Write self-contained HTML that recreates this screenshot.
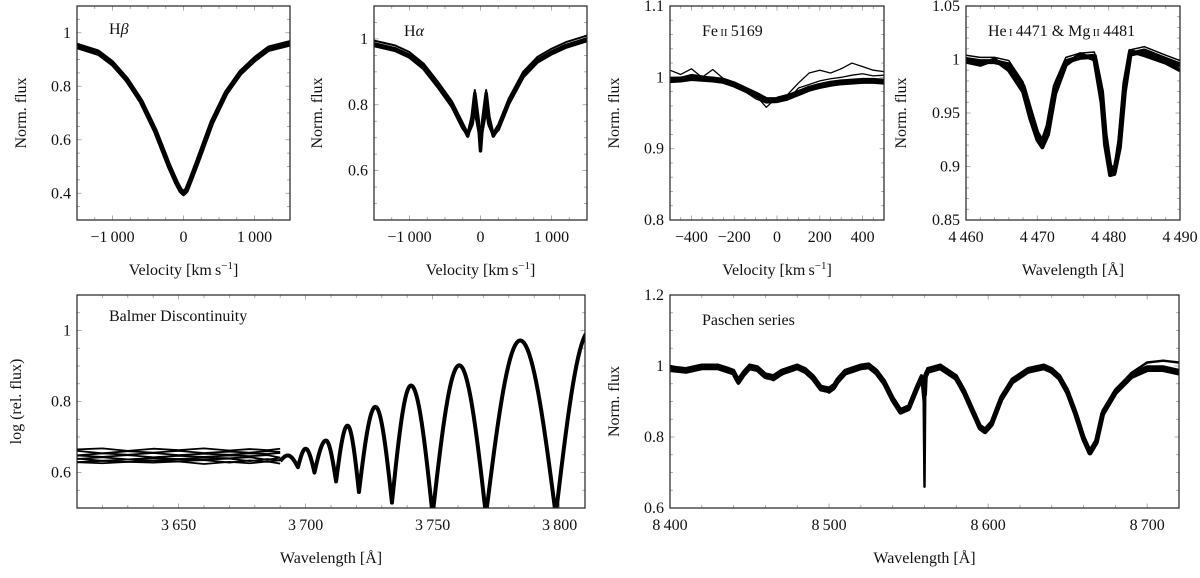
<!DOCTYPE html>
<html><head><meta charset="utf-8"><style>
html,body{margin:0;padding:0;background:#fff;}
svg text{font-family:"Liberation Serif",serif;fill:#111;}
</style></head><body>
<svg id="fig" width="1200" height="573" viewBox="0 0 1200 573" xmlns="http://www.w3.org/2000/svg"></svg>
<script>
// ---- Data arrays ----
const hbVel = [-1500,-1200,-1000,-800,-600,-400,-200,-100,-40,0,40,100,200,400,600,800,1000,1200,1500];
const hbFlux = [0.95,0.925,0.885,0.825,0.745,0.635,0.5,0.44,0.41,0.40,0.41,0.45,0.52,0.665,0.775,0.85,0.9,0.94,0.96];
const haVel = [-1500,-1200,-1000,-800,-600,-400,-250,-180,-120,-80,-30,0,30,80,120,180,250,400,600,800,1000,1200,1500];
const haFluxA = [0.985,0.97,0.95,0.915,0.86,0.8,0.735,0.705,0.76,0.835,0.75,0.66,0.75,0.835,0.76,0.705,0.73,0.81,0.89,0.935,0.96,0.98,1.0];
const haFluxB = [0.98,0.965,0.945,0.91,0.855,0.795,0.73,0.71,0.74,0.79,0.73,0.7,0.73,0.79,0.74,0.71,0.725,0.805,0.885,0.93,0.955,0.975,0.995];
const feVel = [-500,-450,-400,-350,-300,-250,-200,-150,-100,-50,0,50,100,150,200,250,300,350,400,450,500];
const feFluxA = [0.996,0.997,0.999,0.998,0.997,0.995,0.99,0.983,0.976,0.968,0.968,0.972,0.978,0.984,0.988,0.991,0.993,0.994,0.995,0.995,0.994];
const feFluxB = [1.01,1.004,1.012,1.0,1.011,0.998,0.993,0.985,0.975,0.958,0.972,0.976,0.992,1.006,1.01,1.006,1.012,1.02,1.015,1.01,1.008];
const feFluxC = [1.0,1.0,1.004,1.002,0.998,0.996,0.99,0.98,0.97,0.964,0.965,0.968,0.985,0.99,0.995,0.998,1.0,1.003,1.005,1.002,1.003];
const heWave = [4460,4462,4464,4466,4468,4469,4470,4470.7,4471.5,4472.5,4474,4476,4478,4479,4479.5,4480.2,4480.8,4481.5,4482.2,4483,4485,4488,4490];
const heFluxA = [1.0,0.998,0.998,0.995,0.975,0.952,0.93,0.922,0.938,0.975,0.998,1.002,1.003,0.97,0.93,0.898,0.895,0.918,0.97,1.005,1.008,1.0,0.995];
const heFluxB = [0.998,0.995,1.0,0.99,0.97,0.945,0.925,0.918,0.93,0.968,0.995,1.005,1.0,0.96,0.92,0.892,0.893,0.925,0.978,1.008,1.004,0.997,0.99];
const bdBandWave = [3610,3620,3630,3640,3650,3660,3670,3678,3685,3690];
const bdBandLevels = [0.665,0.658,0.652,0.646,0.64,0.636,0.632,0.628];
const bdBandWiggle = [0,0.003,-0.004,0.002,-0.002,0.003,-0.003,0.001,-0.002,0.002];
const bdExtWave = [3690,3693,3697,3700,3703.5,3708,3712,3716.5,3721,3727.5,3734,3741.5,3750,3760.5,3771,3784.5,3798.5,3812];
const bdExtFlux = [0.632,0.648,0.615,0.667,0.6,0.69,0.575,0.732,0.545,0.785,0.515,0.845,0.48,0.902,0.48,0.972,0.48,1.0];
const paWave = [8400,8410,8420,8430,8437,8440,8443,8446,8450,8455,8460,8465,8470,8480,8485,8490,8495,8500,8503,8505,8510,8520,8525,8530,8535,8540,8545,8550,8555,8558,8559.5,8560,8560.5,8562,8570,8580,8585,8590,8595,8598,8602,8608,8615,8625,8635,8640,8645,8650,8655,8660,8664,8668,8672,8680,8690,8700,8710,8720];
const paFluxA = [1.0,0.99,1.0,1.0,0.99,0.985,0.95,0.97,1.0,0.995,0.975,0.96,0.975,1.0,0.99,0.97,0.94,0.925,0.935,0.96,0.985,1.0,1.0,0.985,0.955,0.91,0.875,0.885,0.94,0.97,0.9,0.66,0.95,0.99,1.0,0.97,0.93,0.88,0.83,0.82,0.84,0.91,0.96,0.99,1.0,0.99,0.97,0.93,0.87,0.8,0.76,0.79,0.87,0.93,0.98,1.01,1.015,1.01];
const paFluxB = [0.99,0.985,0.995,0.995,0.985,0.98,0.955,0.975,0.995,0.99,0.97,0.965,0.98,0.995,0.985,0.965,0.935,0.93,0.94,0.955,0.98,0.995,0.998,0.98,0.95,0.905,0.87,0.88,0.935,0.965,0.96,0.92,0.97,0.985,0.995,0.965,0.925,0.875,0.825,0.815,0.835,0.905,0.955,0.985,0.995,0.985,0.965,0.925,0.865,0.795,0.755,0.785,0.865,0.925,0.97,0.99,0.99,0.98];

const NS="http://www.w3.org/2000/svg";
const svg=document.getElementById('fig');
function mk(tag,attrs,parent){const e=document.createElementNS(NS,tag);for(const k in attrs)e.setAttribute(k,attrs[k]);(parent||svg).appendChild(e);return e;}
function fmt(v){let s=Math.abs(v).toString();if(Math.abs(v)>=1000){s=s.replace(/\B(?=(\d{3})+(?!\d))/g,"\u2009");}return (v<0?"\u2212":"")+s;}

function panel(o){
  const g=mk('g',{});
  
  
  const sx=v=>o.x0+(v-o.xmin)/(o.xmax-o.xmin)*(o.x1-o.x0);
  const sy=v=>o.y1-(v-o.ymin)/(o.ymax-o.ymin)*(o.y1-o.y0);
  const clip='c'+o.name;
  const cp=mk('clipPath',{id:clip},g);mk('rect',{x:o.x0,y:o.y0,width:o.x1-o.x0,height:o.y1-o.y0},cp);
  const tg=mk('g',{stroke:'#999','stroke-width':0.8},g);
  
  
  for(let v=o.xmin;v<=o.xmax+1e-9;v+=o.xminor){const X=sx(v);const maj=o.xticks.some(t=>Math.abs(t-v)<1e-6);const L=maj?4.5:3;
    mk('line',{x1:X,x2:X,y1:o.y1,y2:o.y1-L},tg);mk('line',{x1:X,x2:X,y1:o.y0,y2:o.y0+L},tg);}
  for(let v=o.ymin;v<=o.ymax+1e-9;v+=o.yminor){const Y=sy(v);const maj=o.yticks.some(t=>Math.abs(t-v)<1e-6);const L=maj?4.5:3;
    mk('line',{y1:Y,y2:Y,x1:o.x0,x2:o.x0+L},tg);mk('line',{y1:Y,y2:Y,x1:o.x1,x2:o.x1-L},tg);}
  o.xticks.forEach(t=>{const e=mk('text',{x:sx(t),y:o.y1+22,'text-anchor':'middle','font-size':16},g);e.textContent=fmt(t);
    
    });
  o.yticks.forEach((t,i)=>{const e=mk('text',{x:o.x0-6,y:sy(t)+5,'text-anchor':'end','font-size':16},g);e.textContent=o.ylabels[i];
    
    });
  const sg=mk('g',{'clip-path':'url(#'+clip+')',fill:'none',stroke:'#000','stroke-linejoin':'round'},g);
  o.series.forEach(s=>{
    const d=s.pts.map((p,i)=>(i?'L':'M')+sx(p[0]).toFixed(2)+','+sy(p[1]).toFixed(2)).join('');
    const p=mk('path',{d:d,'stroke-width':s.w},sg);
    
    
  });
  mk('rect',{x:o.x0,y:o.y0,width:o.x1-o.x0,height:o.y1-o.y0,fill:'none',stroke:'#222','stroke-width':1.2},g);
  const t=mk('text',{x:o.x0+o.tx,y:o.y0+o.ty,'font-size':16},g);t.innerHTML=o.title;
  
  
  const xl=mk('text',{x:(o.x0+o.x1)/2,y:o.y1+55,'text-anchor':'middle','font-size':16},g);xl.innerHTML=o.xlabel;
  
  
  const yl=mk('text',{x:0,y:0,'text-anchor':'middle','font-size':16,transform:`translate(${o.ylx},${(o.y0+o.y1)/2}) rotate(-90)`},g);yl.textContent=o.ylabel;
  
  
}
const zip=(a,b,dy=0)=>a.map((v,i)=>[v,b[i]+dy]);
const vel='Velocity [km\u2009s<tspan dy="-6" font-size="11">\u22121</tspan><tspan dy="6">]</tspan>';
const wav='Wavelength [\u00C5]';

panel({name:'h-beta-panel',x0:77,x1:290,y0:6,y1:220,xmin:-1500,xmax:1500,ymin:0.3,ymax:1.1,xticks:[-1000,0,1000],xminor:250,yticks:[0.4,0.6,0.8,1],ylabels:['0.4','0.6','0.8','1'],yminor:0.05,
  title:'H<tspan font-style="italic">β</tspan>',tx:32,ty:28,xlabel:vel,ylabel:'Norm. flux',ylx:26,
  series:[{name:'h-beta-a',pts:zip(hbVel,hbFlux),w:5},{name:'h-beta-b',pts:zip(hbVel,hbFlux,0.008),w:2.5},{name:'h-beta-c',pts:zip(hbVel,hbFlux,-0.007),w:2.5}]});
panel({name:'h-alpha-panel',x0:374,x1:587,y0:6,y1:220,xmin:-1500,xmax:1500,ymin:0.45,ymax:1.1,xticks:[-1000,0,1000],xminor:250,yticks:[0.6,0.8,1],ylabels:['0.6','0.8','1'],yminor:0.05,
  title:'H<tspan font-style="italic">α</tspan>',tx:30,ty:30,xlabel:vel,ylabel:'Norm. flux',ylx:322,
  series:[{name:'h-alpha-a',pts:zip(haVel,haFluxA),w:3.5},{name:'h-alpha-b',pts:zip(haVel,haFluxB),w:3.5},{name:'h-alpha-c',pts:zip(haVel,haFluxA,0.01),w:2}]});
panel({name:'fe-ii-panel',x0:670,x1:884,y0:6,y1:220,xmin:-500,xmax:500,ymin:0.8,ymax:1.1,xticks:[-400,-200,0,200,400],xminor:50,yticks:[0.8,0.9,1,1.1],ylabels:['0.8','0.9','1','1.1'],yminor:0.02,
  title:'Fe<tspan font-size="11">\u2009II</tspan>\u20095169',tx:32,ty:30,xlabel:vel,ylabel:'Norm. flux',ylx:619,
  series:[{name:'fe-ii-a',pts:zip(feVel,feFluxA),w:6},{name:'fe-ii-b',pts:zip(feVel,feFluxB),w:1.3},{name:'fe-ii-c',pts:zip(feVel,feFluxC),w:1.3}]});
panel({name:'he-mg-panel',x0:966,x1:1180,y0:6,y1:220,xmin:4460,xmax:4490,ymin:0.85,ymax:1.05,xticks:[4460,4470,4480,4490],xminor:2,yticks:[0.85,0.9,0.95,1,1.05],ylabels:['0.85','0.9','0.95','1','1.05'],yminor:0.01,
  title:'He<tspan font-size="11">\u2009I</tspan>\u20094471 &amp; Mg<tspan font-size="11">\u2009II</tspan>\u20094481',tx:22,ty:30,xlabel:wav,ylabel:'Norm. flux',ylx:906,
  series:[{name:'he-mg-a',pts:zip(heWave,heFluxA),w:5},{name:'he-mg-b',pts:zip(heWave,heFluxB),w:4},{name:'he-mg-c',pts:zip(heWave,heFluxA,0.004),w:1.5}]});

const bdSeries=[];
bdBandLevels.forEach((lv,k)=>{bdSeries.push({name:'balmer-band-'+k,pts:bdBandWave.map((w,i)=>[w,lv+bdBandWiggle[(i+k)%bdBandWiggle.length]]),w:1.8});});
const osc=[];
for(let i=0;i<bdExtWave.length-1;i++){
  const w0=bdExtWave[i],w1=bdExtWave[i+1],f0=bdExtFlux[i],f1=bdExtFlux[i+1];
  for(let s=0;s<=20;s++){const t=s/20;let e;
    if(f1>f0) e=Math.sin(t*Math.PI/2); else e=1-Math.cos(t*Math.PI/2);
    osc.push([w0+(w1-w0)*t,f0+(f1-f0)*e]);}
}
bdSeries.push({name:'balmer-oscillation',pts:osc,w:4});
panel({name:'balmer-panel',x0:77,x1:585,y0:295,y1:508,xmin:3610,xmax:3810,ymin:0.5,ymax:1.1,xticks:[3650,3700,3750,3800],xminor:10,yticks:[0.6,0.8,1],ylabels:['0.6','0.8','1'],yminor:0.05,
  title:'Balmer Discontinuity',tx:32,ty:26,xlabel:wav,ylabel:'log (rel. flux)',ylx:21,series:bdSeries});
panel({name:'paschen-panel',x0:670,x1:1179,y0:295,y1:508,xmin:8400,xmax:8720,ymin:0.6,ymax:1.2,xticks:[8400,8500,8600,8700],xminor:20,yticks:[0.6,0.8,1,1.2],ylabels:['0.6','0.8','1','1.2'],yminor:0.05,
  title:'Paschen series',tx:32,ty:30,xlabel:wav,ylabel:'Norm. flux',ylx:619,
  series:[{name:'paschen-a',pts:zip(paWave,paFluxA),w:2.5},{name:'paschen-b',pts:zip(paWave,paFluxB),w:5},{name:'paschen-c',pts:zip(paWave,paFluxB,0.008),w:3}]});
</script>
</body></html>
